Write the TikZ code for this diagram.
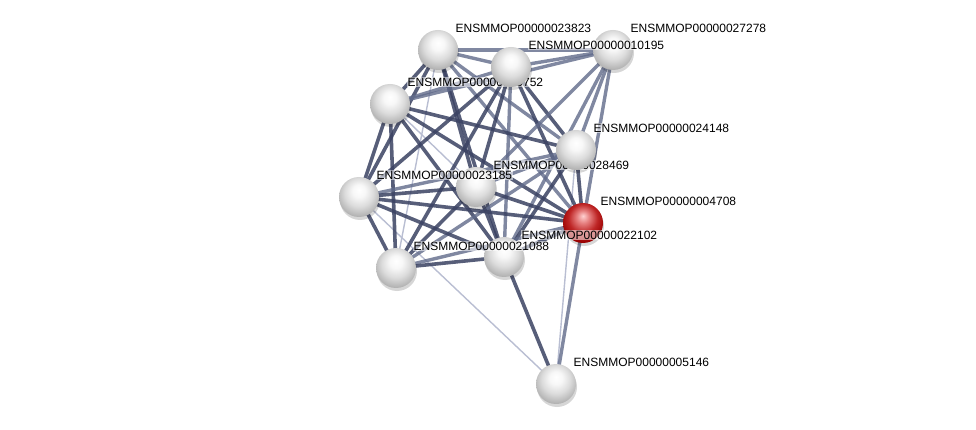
\documentclass[tikz,border=0pt]{standalone}
\usepackage{fontspec}
\setmainfont{Liberation Sans}
\usetikzlibrary{shadings,calc}
\definecolor{edk}{RGB}{58,66,98}
\definecolor{emd}{RGB}{96,106,138}
\definecolor{elt}{RGB}{185,190,210}
\pgfdeclareradialshading{graysphere}{\pgfpoint{0bp}{9bp}}{%
  color(0bp)=(white);
  color(8bp)=(white!97!black);
  color(18bp)=(black!14);
  color(28bp)=(black!30);
  color(34bp)=(black!48);
  color(50bp)=(black!48)}
\pgfdeclareradialshading{redsphere}{\pgfpoint{0bp}{9bp}}{%
  color(0bp)=(red!18!white);
  color(8bp)=(red!45!white!90!black);
  color(18bp)=(red!70!black!85);
  color(28bp)=(red!60!black);
  color(34bp)=(red!40!black);
  color(50bp)=(red!40!black)}
\begin{document}
\begin{tikzpicture}[x=1pt,y=-1pt,
  ed/.style={line width=3.6pt, draw=edk, draw opacity=0.85},
  em/.style={line width=3.4pt, draw=emd, draw opacity=0.8},
  el/.style={line width=1.4pt, draw=elt},
  ball/.style={circle, minimum size=40pt, inner sep=0pt, shading=graysphere},
  redball/.style={circle, minimum size=40pt, inner sep=0pt, shading=redsphere},
  shad/.style={fill=black, fill opacity=0.16},
  lab/.style={anchor=west, font=\fontsize{12}{12}\selectfont, inner sep=0.5pt, fill=white, fill opacity=0.55, text opacity=1}]
\useasboundingbox (0,0) rectangle (976,430);
% coordinates
\coordinate (A) at (438,50);
\coordinate (B) at (511,67);
\coordinate (C) at (613,50);
\coordinate (D) at (390,104);
\coordinate (E) at (576,150);
\coordinate (F) at (476,187);
\coordinate (G) at (359,197);
\coordinate (H) at (583,223);
\coordinate (I) at (504,257);
\coordinate (J) at (396,268);
\coordinate (K) at (556,384);
% edges
\draw[el] (A) -- (J);
\draw[el] (G) -- (K);
\draw[el] (E) -- (K);
\draw[el] (D) -- (F);
\draw[em] (A) -- (B);
\draw[em] (A) -- (C);
\draw[ed] (A) -- (D);
\draw[em] (A) -- (E);
\draw[ed] (A) -- (F);
\draw[ed] (A) -- (G);
\draw[em] (A) -- (H);
\draw[ed] (A) -- (I);
\draw[em] (B) -- (C);
\draw[em] (B) -- (D);
\draw[ed] (B) -- (E);
\draw[ed] (B) -- (F);
\draw[ed] (B) -- (G);
\draw[ed] (B) -- (H);
\draw[em] (B) -- (I);
\draw[ed] (B) -- (J);
\draw[em] (C) -- (D);
\draw[em] (C) -- (E);
\draw[em] (C) -- (F);
\draw[em] (C) -- (H);
\draw[em] (C) -- (I);
\draw[ed] (D) -- (E);
\draw[ed] (D) -- (G);
\draw[ed] (D) -- (H);
\draw[ed] (D) -- (I);
\draw[ed] (D) -- (J);
\draw[em] (E) -- (F);
\draw[em] (E) -- (G);
\draw[ed] (E) -- (H);
\draw[ed] (E) -- (I);
\draw[em] (E) -- (J);
\draw[ed] (F) -- (G);
\draw[ed] (F) -- (H);
\draw[ed] (F) -- (I);
\draw[ed] (F) -- (J);
\draw[ed] (G) -- (H);
\draw[ed] (G) -- (I);
\draw[ed] (G) -- (J);
\draw[ed] (H) -- (I);
\draw[em] (H) -- (J);
\draw[ed] (I) -- (J);
\draw[ed] (I) -- (K);
\draw[em] (H) -- (K);
% shadows
\foreach \p in {A,B,C,D,E,F,G,H,I,J,K}
  \fill[shad] ($(\p)+(1,3)$) circle (20);
% nodes and labels
\node[ball] (nA) at (A) {};
\node[lab] (lA) at ($(A)+(17,-22)$) {ENSMMOP00000023823};
\node[ball] (nC) at (C) {};
\node[lab] (lC) at ($(C)+(17,-22)$) {ENSMMOP00000027278};
\node[ball] (nD) at (D) {};
\node[lab] (lD) at ($(D)+(17,-22)$) {ENSMMOP00000019752};
\node[ball] (nB) at (B) {};
\node[lab] (lB) at ($(B)+(17,-22)$) {ENSMMOP00000010195};
\node[ball] (nF) at (F) {};
\node[lab] (lF) at ($(F)+(17,-22)$) {ENSMMOP00000028469};
\node[ball] (nE) at (E) {};
\node[lab] (lE) at ($(E)+(17,-22)$) {ENSMMOP00000024148};
\node[ball] (nG) at (G) {};
\node[lab] (lG) at ($(G)+(17,-22)$) {ENSMMOP00000023185};
\node[redball] (nH) at (H) {};
\node[lab] (lH) at ($(H)+(17,-22)$) {ENSMMOP00000004708};
\node[ball] (nI) at (I) {};
\node[lab] (lI) at ($(I)+(17,-22)$) {ENSMMOP00000022102};
\node[ball] (nJ) at (J) {};
\node[lab] (lJ) at ($(J)+(17,-22)$) {ENSMMOP00000021088};
\node[ball] (nK) at (K) {};
\node[lab] (lK) at ($(K)+(17,-22)$) {ENSMMOP00000005146};
\end{tikzpicture}
\end{document}
